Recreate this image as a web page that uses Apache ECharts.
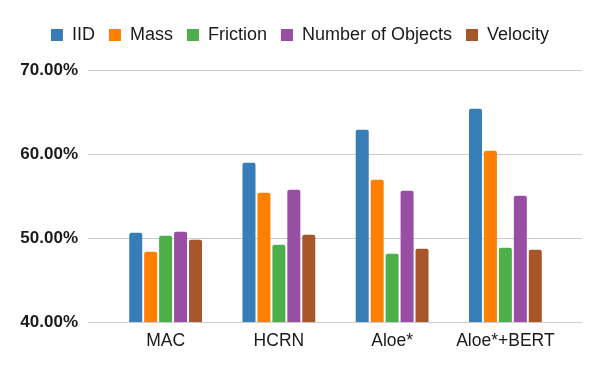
<!DOCTYPE html>
<html>
<head>
<meta charset="utf-8">
<script src="https://cdn.jsdelivr.net/npm/echarts@6/dist/echarts.min.js"></script>
<style>
  html, body { margin: 0; padding: 0; background: #fff; }
  #chart { width: 600px; height: 371px; }
</style>
</head>
<body>
<div id="chart"></div>
<script>
// categories and values (percent)
var models = ["MAC", "HCRN", "Aloe*", "Aloe*+BERT"];
var seriesNames = ["IID", "Mass", "Friction", "Number of Objects", "Velocity"];
var iid = [50.63, 58.96, 62.9, 65.4];
var mass = [48.37, 55.39, 56.94, 60.39];
var friction = [50.27, 49.2, 48.13, 48.85];
var numObjects = [50.75, 55.75, 55.63, 55.04];
var velocity = [49.8, 50.39, 48.73, 48.6];
var yTicks = [40, 50, 60, 70];

var colors = ["#377eb8", "#ff7f00", "#4daf4a", "#984ea3", "#a65628"];
var values = [iid, mass, friction, numObjects, velocity];

var chart = echarts.init(document.getElementById("chart"));

var series = seriesNames.map(function (name, i) {
  return {
    name: name,
    type: "bar",
    xAxisIndex: 1,
    yAxisIndex: 1,
    data: values[i],
    barWidth: 13,
    barGap: "15%",
    itemStyle: { color: colors[i], borderRadius: [2, 2, 0, 0] }
  };
});

var option = {
  animation: false,
  textStyle: { fontFamily: "Liberation Sans, Arial, sans-serif" },
  legend: {
    left: "center",
    top: 21,
    itemWidth: 12,
    itemHeight: 12,
    itemGap: 14,
    icon: "rect",
    textStyle: { fontSize: 18, color: "#1a1a1a", padding: [0, 0, 0, 4] },
    data: seriesNames
  },
  // grid 0 carries the gridlines and y labels, grid 1 the bars
  grid: [
    { left: 88, right: 18, top: 70, bottom: 49 },
    { left: 109, right: 38, top: 70, bottom: 49 }
  ],
  xAxis: [
    { gridIndex: 0, type: "category", data: models, show: false },
    {
      gridIndex: 1,
      type: "category",
      data: models,
      axisLine: { show: false },
      axisTick: { show: false },
      axisLabel: { fontSize: 17.5, color: "#1a1a1a", margin: 10, interval: 0 }
    }
  ],
  yAxis: [
    {
      gridIndex: 0,
      type: "value",
      min: yTicks[0],
      max: yTicks[yTicks.length - 1],
      interval: 10,
      axisLine: { show: false },
      axisTick: { show: false },
      splitLine: { lineStyle: { color: "#cccccc" } },
      axisLabel: {
        fontSize: 17,
        fontWeight: "bold",
        color: "#1a1a1a",
        margin: 10,
        formatter: function (v) { return v.toFixed(2) + "%"; }
      }
    },
    {
      gridIndex: 1,
      type: "value",
      min: yTicks[0],
      max: yTicks[yTicks.length - 1],
      interval: 10,
      show: false,
      splitLine: { show: false }
    }
  ],
  series: series
};

chart.setOption(option);
window.addEventListener("resize", function () {
  chart.resize();
});
</script>
</body>
</html>
